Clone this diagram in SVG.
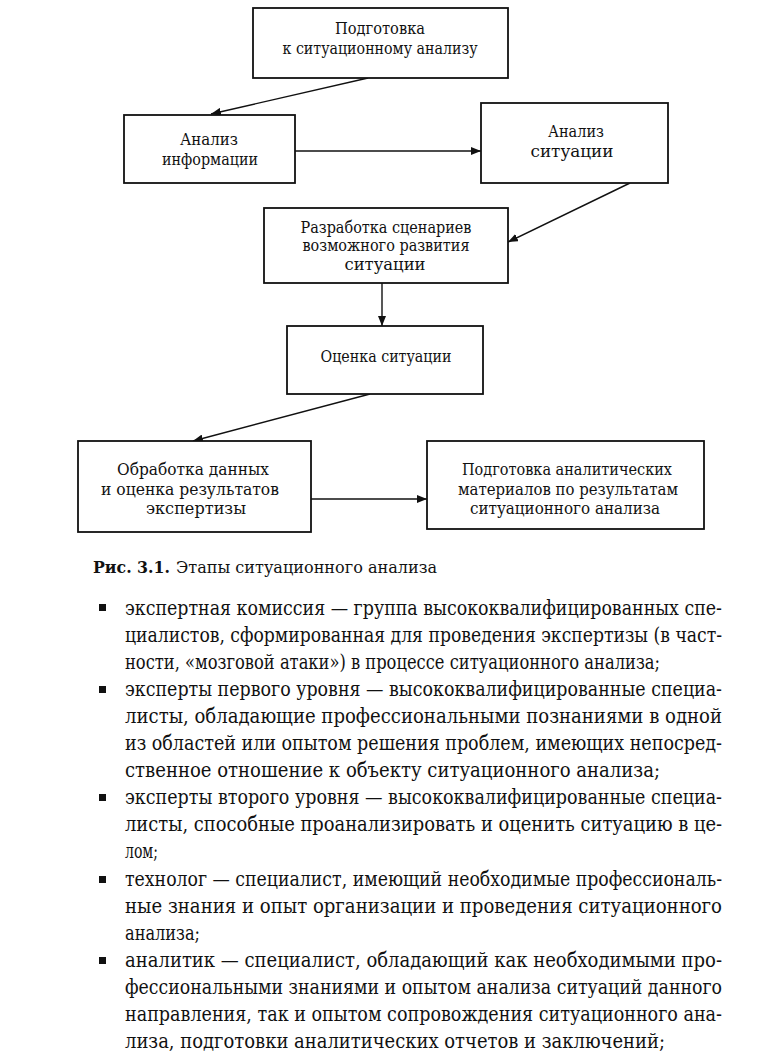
<svg xmlns="http://www.w3.org/2000/svg" width="764" height="1061" viewBox="0 0 764 1061">
<style>
.box{fill:#fff;stroke:#111;stroke-width:1.8}
.t{font-family:"DejaVu Serif Condensed","DejaVu Serif","Liberation Serif",serif;font-size:16.5px;fill:#111;text-anchor:middle}
.c{stroke:#111;stroke-width:1.4;fill:none;marker-end:url(#ah)}
.b{font-family:"DejaVu Serif Condensed","DejaVu Serif","Liberation Serif",serif;font-size:20px;fill:#111}
.cap{font-family:"DejaVu Serif Condensed","DejaVu Serif","Liberation Serif",serif;font-size:17px;fill:#111}
.sq{fill:#111}
</style>
<defs>
<marker id="ah" viewBox="0 0 10 8" refX="10" refY="4" markerWidth="10" markerHeight="8" markerUnits="userSpaceOnUse" orient="auto">
<path d="M0,0 L10,4 L0,8 Z" fill="#111"/>
</marker>
</defs>
<rect width="764" height="1061" fill="#fff"/>
<g id="connectors">
<line class="c" x1="368" y1="78" x2="211" y2="114"/>
<line class="c" x1="295" y1="151" x2="481" y2="151"/>
<line class="c" x1="630" y1="183" x2="508" y2="242"/>
<line class="c" x1="382" y1="283" x2="382" y2="326"/>
<line class="c" x1="370" y1="394" x2="193" y2="441"/>
<line class="c" x1="311" y1="499" x2="427" y2="499"/>
</g>
<g id="n1">
<rect class="box" x="253" y="8" width="255" height="70"/>
<text class="t" x="380" y="34" textLength="90" lengthAdjust="spacingAndGlyphs">Подготовка</text>
<text class="t" x="380" y="54" textLength="195" lengthAdjust="spacingAndGlyphs">к ситуационному анализу</text>
</g>
<g id="n2">
<rect class="box" x="124" y="115" width="171" height="68"/>
<text class="t" x="209" y="145" textLength="58" lengthAdjust="spacingAndGlyphs">Анализ</text>
<text class="t" x="210" y="165" textLength="96" lengthAdjust="spacingAndGlyphs">информации</text>
</g>
<g id="n3">
<rect class="box" x="481" y="103" width="187" height="80"/>
<text class="t" x="576" y="137" textLength="56" lengthAdjust="spacingAndGlyphs">Анализ</text>
<text class="t" x="572" y="157" textLength="83" lengthAdjust="spacingAndGlyphs">ситуации</text>
</g>
<g id="n4">
<rect class="box" x="264" y="208" width="244" height="75"/>
<text class="t" x="386" y="233" textLength="171" lengthAdjust="spacingAndGlyphs">Разработка сценариев</text>
<text class="t" x="386" y="251" textLength="167" lengthAdjust="spacingAndGlyphs">возможного развития</text>
<text class="t" x="385" y="270" textLength="81" lengthAdjust="spacingAndGlyphs">ситуации</text>
</g>
<g id="n5">
<rect class="box" x="287" y="326" width="196" height="68"/>
<text class="t" x="386" y="362" textLength="131" lengthAdjust="spacingAndGlyphs">Оценка ситуации</text>
</g>
<g id="n6">
<rect class="box" x="78" y="441" width="233" height="91"/>
<text class="t" x="193" y="475" textLength="152" lengthAdjust="spacingAndGlyphs">Обработка данных</text>
<text class="t" x="190" y="495" textLength="178" lengthAdjust="spacingAndGlyphs">и оценка результатов</text>
<text class="t" x="196" y="514" textLength="100" lengthAdjust="spacingAndGlyphs">экспертизы</text>
</g>
<g id="n7">
<rect class="box" x="427" y="441" width="277" height="88"/>
<text class="t" x="567" y="475" textLength="210" lengthAdjust="spacingAndGlyphs">Подготовка аналитических</text>
<text class="t" x="568" y="495" textLength="220" lengthAdjust="spacingAndGlyphs">материалов по результатам</text>
<text class="t" x="565" y="514" textLength="190" lengthAdjust="spacingAndGlyphs">ситуационного анализа</text>
</g>
<g id="caption">
<text class="cap" x="93" y="573" font-weight="bold" textLength="77" lengthAdjust="spacingAndGlyphs">Рис. 3.1.</text>
<text class="cap" x="176" y="573" textLength="261" lengthAdjust="spacingAndGlyphs">Этапы ситуационного анализа</text>
</g>
<g id="list">
<rect class="sq" x="99" y="604" width="7" height="7"/>
<rect class="sq" x="99" y="686" width="7" height="7"/>
<rect class="sq" x="99" y="794" width="7" height="7"/>
<rect class="sq" x="99" y="876" width="7" height="7"/>
<rect class="sq" x="99" y="957" width="7" height="7"/>
<text class="b" x="125" y="615" textLength="597" lengthAdjust="spacingAndGlyphs">экспертная комиссия — группа высококвалифицированных спе-</text>
<text class="b" x="125" y="642" textLength="597" lengthAdjust="spacingAndGlyphs">циалистов, сформированная для проведения экспертизы (в част-</text>
<text class="b" x="125" y="669" textLength="535" lengthAdjust="spacingAndGlyphs">ности, «мозговой атаки») в процессе ситуационного анализа;</text>
<text class="b" x="125" y="696" textLength="597" lengthAdjust="spacingAndGlyphs">эксперты первого уровня — высококвалифицированные специа-</text>
<text class="b" x="125" y="723" textLength="597" lengthAdjust="spacingAndGlyphs">листы, обладающие профессиональными познаниями в одной</text>
<text class="b" x="125" y="750" textLength="597" lengthAdjust="spacingAndGlyphs">из областей или опытом решения проблем, имеющих непосред-</text>
<text class="b" x="125" y="777" textLength="535" lengthAdjust="spacingAndGlyphs">ственное отношение к объекту ситуационного анализа;</text>
<text class="b" x="125" y="804" textLength="597" lengthAdjust="spacingAndGlyphs">эксперты второго уровня — высококвалифицированные специа-</text>
<text class="b" x="125" y="831" textLength="597" lengthAdjust="spacingAndGlyphs">листы, способные проанализировать и оценить ситуацию в це-</text>
<text class="b" x="125" y="858" textLength="33" lengthAdjust="spacingAndGlyphs">лом;</text>
<text class="b" x="125" y="886" textLength="597" lengthAdjust="spacingAndGlyphs">технолог — специалист, имеющий необходимые профессиональ-</text>
<text class="b" x="125" y="913" textLength="597" lengthAdjust="spacingAndGlyphs">ные знания и опыт организации и проведения ситуационного</text>
<text class="b" x="125" y="940" textLength="75" lengthAdjust="spacingAndGlyphs">анализа;</text>
<text class="b" x="125" y="967" textLength="597" lengthAdjust="spacingAndGlyphs">аналитик — специалист, обладающий как необходимыми про-</text>
<text class="b" x="125" y="994" textLength="597" lengthAdjust="spacingAndGlyphs">фессиональными знаниями и опытом анализа ситуаций данного</text>
<text class="b" x="125" y="1021" textLength="597" lengthAdjust="spacingAndGlyphs">направления, так и опытом сопровождения ситуационного ана-</text>
<text class="b" x="125" y="1048" textLength="540" lengthAdjust="spacingAndGlyphs">лиза, подготовки аналитических отчетов и заключений;</text>
</g>
</svg>
